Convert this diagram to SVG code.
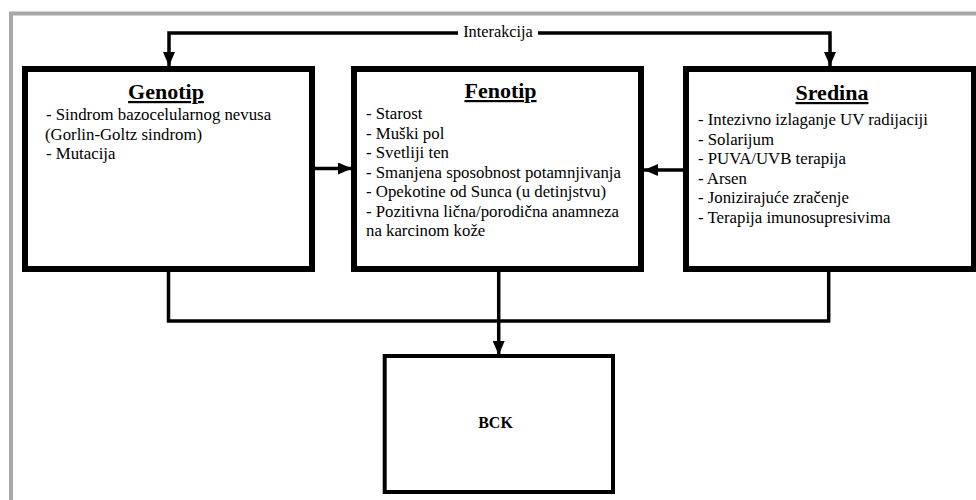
<svg xmlns="http://www.w3.org/2000/svg" width="976" height="500" viewBox="0 0 976 500">
<defs>
<style>
.frame{fill:none;stroke:#a8a8a8;stroke-width:4}
.box{fill:#fff;stroke:#000;stroke-width:6}
.bbox{fill:#fff;stroke:#000;stroke-width:4}
.con{fill:none;stroke:#000;stroke-width:3.5}
text{font-family:'Liberation Serif','Times New Roman','DejaVu Serif',serif;fill:#000}
.t{font-size:16.8px}
.h{font-size:22px;font-weight:bold;text-decoration:underline}
.lbl{font-size:16.3px}
.bck{font-size:16px;font-weight:bold}
</style>
<marker id="ah" markerUnits="userSpaceOnUse" markerWidth="14" markerHeight="12" refX="14" refY="6" orient="auto">
<path d="M0,0 L14,6 L0,12 z" fill="#000"/>
</marker>
</defs>
<rect width="976" height="500" fill="#fff"/>
<path class="frame" d="M11,500 V13.5 H976"/>

<g id="connectors">
<path class="con" d="M458,33 H169 V66" marker-end="url(#ah)"/>
<path class="con" d="M538,33 H830 V66" marker-end="url(#ah)"/>
<path class="con" d="M315,168.5 H352" marker-end="url(#ah)"/>
<path class="con" d="M683,170 H644" marker-end="url(#ah)"/>
<path class="con" d="M168.5,272 V321 H828.7 V272"/>
<path class="con" d="M498.7,272 V355" marker-end="url(#ah)"/>
<text class="lbl" x="498" y="37" text-anchor="middle">Interakcija</text>
</g>

<g id="genotip">
<rect class="box" x="25" y="69" width="287" height="200"/>
<text class="h" x="166" y="99" text-anchor="middle">Genotip</text>
<text class="t" x="46" y="120">- Sindrom bazocelularnog nevusa</text>
<text class="t" x="45" y="139.5">(Gorlin-Goltz sindrom)</text>
<text class="t" x="46" y="159">- Mutacija</text>
</g>

<g id="fenotip">
<rect class="box" x="354" y="69" width="287" height="200"/>
<text class="h" x="500.5" y="98" text-anchor="middle">Fenotip</text>
<text class="t" x="366" y="119">- Starost</text>
<text class="t" x="366" y="138.5">- Muški pol</text>
<text class="t" x="366" y="158">- Svetliji ten</text>
<text class="t" x="366" y="177.5">- Smanjena sposobnost potamnjivanja</text>
<text class="t" x="366" y="197">- Opekotine od Sunca (u detinjstvu)</text>
<text class="t" x="366" y="216.5">- Pozitivna lična/porodična anamneza</text>
<text class="t" x="366" y="236">na karcinom kože</text>
</g>

<g id="sredina">
<rect class="box" x="686" y="69" width="288" height="200"/>
<text class="h" x="832" y="100" text-anchor="middle">Sredina</text>
<text class="t" x="698" y="125">- Intezivno izlaganje UV radijaciji</text>
<text class="t" x="698" y="144.5">- Solarijum</text>
<text class="t" x="698" y="164">- PUVA/UVB terapija</text>
<text class="t" x="698" y="183.5">- Arsen</text>
<text class="t" x="698" y="203">- Jonizirajuće zračenje</text>
<text class="t" x="698" y="222.5">- Terapija imunosupresivima</text>
</g>

<g id="bck">
<rect class="bbox" x="384.7" y="356" width="228.3" height="136"/>
<text class="bck" x="495.5" y="428" text-anchor="middle">BCK</text>
</g>
</svg>
